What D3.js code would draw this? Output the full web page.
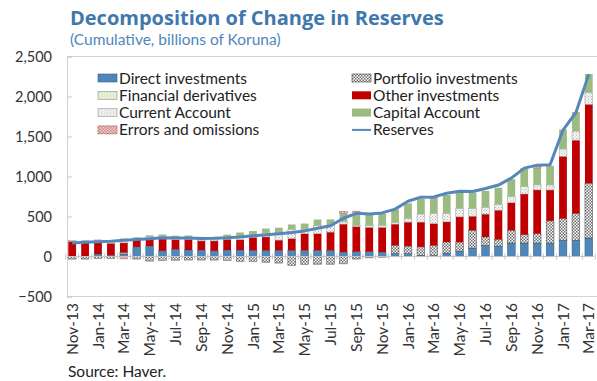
<!DOCTYPE html>
<html>
<head>
<meta charset="utf-8">
<script src="https://cdn.jsdelivr.net/npm/d3@7"></script>
<style>
  html, body { margin: 0; padding: 0; background: #fff; }
  svg { display: block; }
</style>
</head>
<body>
<svg id="chart" width="597" height="381"></svg>
<script>
// Monthly periods, Nov-13 .. Mar-17
const months = ["Nov-13","Dec-13","Jan-14","Feb-14","Mar-14","Apr-14","May-14","Jun-14","Jul-14","Aug-14","Sep-14","Oct-14",
  "Nov-14","Dec-14","Jan-15","Feb-15","Mar-15","Apr-15","May-15","Jun-15","Jul-15","Aug-15","Sep-15","Oct-15",
  "Nov-15","Dec-15","Jan-16","Feb-16","Mar-16","Apr-16","May-16","Jun-16","Jul-16","Aug-16","Sep-16","Oct-16",
  "Nov-16","Dec-16","Jan-17","Feb-17","Mar-17"];

// Cumulative components, billions of koruna
const directInvestments = [0,0,30,15,30,120,130,70,90,80,80,70,80,80,75,75,75,75,75,75,75,55,60,60,55,35,35,15,13,42,67,105,139,130,168,168,168,168,202,202,231];
const portfolioInvestments = [-30,-30,-25,-22,20,-30,-55,-50,-45,-42,-42,-42,-50,-59,-60,-70,-80,-110,-100,-95,-95,-90,-30,-15,-8,105,95,105,126,139,113,223,105,84,160,105,118,277,273,336,685];
const financialDerivatives = [-4,-4,-3,-3,-3,-3,-3,-3,-3,-3,-3,-3,-3,-3,-3,-3,-3,-3,-3,-3,-3,-3,-3,-3,-3,-4,-4,-4,-4,-4,-4,-4,-4,-4,-4,-4,-4,-4,-4,-4,-4];
const otherInvestments = [190,185,170,150,120,90,90,150,120,135,115,125,135,130,165,170,130,150,210,210,230,350,315,305,310,265,300,310,273,252,315,176,286,365,344,508,546,386,777,916,987];
const currentAccount = [10,10,5,20,40,15,25,30,25,25,25,25,28,40,35,50,90,115,50,100,80,30,15,20,25,20,45,100,126,105,105,97,84,71,76,92,63,63,92,113,147];
const capitalAccount = [0,5,5,10,15,15,20,25,25,22,25,25,30,50,43,54,65,60,77,77,79,100,170,135,145,160,190,190,189,231,210,197,206,210,218,231,210,240,244,239,231];
const errorsOmissions = [0,0,0,0,-27,0,0,0,0,0,0,0,0,0,0,0,0,0,0,0,0,28,7,0,0,0,0,0,20,0,0,0,0,0,0,0,21,0,0,0,0];
const reserves = [168,178,185,192,203,212,222,235,232,230,226,228,234,245,258,272,285,300,320,352,385,478,540,532,545,592,690,742,745,790,815,812,850,893,980,1105,1142,1146,1580,1800,2278];

const yTicks = [-500, 0, 500, 1000, 1500, 2000, 2500];
const monthLabels = months.filter((m, i) => i % 2 === 0);

const seriesKeys = ["direct","portfolio","derivatives","other","current","capital","errors"];
const seriesNames = {
  direct: "Direct investments", portfolio: "Portfolio investments", derivatives: "Financial derivatives",
  other: "Other investments", current: "Current Account", capital: "Capital Account",
  errors: "Errors and omissions"
};

const rows = months.map((m, i) => ({
  month: m,
  direct: directInvestments[i], portfolio: portfolioInvestments[i], derivatives: financialDerivatives[i],
  other: otherInvestments[i], current: currentAccount[i], capital: capitalAccount[i], errors: errorsOmissions[i]
}));

const FONT = "Lato, 'Noto Sans', sans-serif";
const svg = d3.select("#chart");
const defs = svg.append("defs");

// Fill patterns
function dotPattern(id, bg, fg, size, mode) {
  const p = defs.append("pattern").attr("id", id).attr("patternUnits", "userSpaceOnUse")
    .attr("width", size).attr("height", size);
  p.append("rect").attr("width", size).attr("height", size).attr("fill", bg);
  if (mode === "checker") {
    p.append("rect").attr("x", 0).attr("y", 0).attr("width", size / 2).attr("height", size / 2).attr("fill", fg);
    p.append("rect").attr("x", size / 2).attr("y", size / 2).attr("width", size / 2).attr("height", size / 2).attr("fill", fg);
  } else {
    p.append("rect").attr("x", 0).attr("y", 0).attr("width", 1).attr("height", 1).attr("fill", fg);
    p.append("rect").attr("x", size / 2).attr("y", size / 2).attr("width", 1).attr("height", 1).attr("fill", fg);
  }
}
dotPattern("pat-portfolio", "#ffffff", "#6e6e6e", 3, "checker");
dotPattern("pat-deriv", "#eef5e4", "#b9cf9f", 3, "dots");
dotPattern("pat-current", "#f7f7f7", "#b5b5b5", 3, "dots");
dotPattern("pat-errors", "#f7dede", "#c87878", 3, "checker");

const fills = {
  direct: "#4f88b8", portfolio: "url(#pat-portfolio)", derivatives: "url(#pat-deriv)",
  other: "#c00000", current: "url(#pat-current)", capital: "#9bbb83", errors: "url(#pat-errors)"
};
const strokes = {
  direct: "#2f5f86", portfolio: "#444", derivatives: "#8a9a78", other: "none",
  current: "#999", capital: "none", errors: "#a66"
};

const plot = { left: 67, right: 594, top: 56.5, bottom: 296.5 };

const x = d3.scaleBand().domain(months).range([plot.left, plot.right])
  .paddingInner(0.4).paddingOuter(0.1);
const y = d3.scaleLinear().domain([-500, 2500]).range([plot.bottom, plot.top]);

// Plot frame
const frame = svg.append("g").attr("stroke", "#d4d4d4").attr("fill", "none");
frame.append("line").attr("x1", plot.left).attr("x2", 597).attr("y1", plot.top).attr("y2", plot.top);
frame.append("line").attr("x1", plot.left).attr("x2", 597).attr("y1", plot.bottom).attr("y2", plot.bottom);

// Value axis
const yAxis = svg.append("g").attr("transform", `translate(${plot.left},0)`)
  .call(d3.axisLeft(y).tickValues(yTicks).tickSize(-5).tickPadding(15).tickFormat(d3.format(",")));
yAxis.select(".domain").attr("stroke", "#d0d0d0");
yAxis.selectAll(".tick line").attr("stroke", "#c8c8c8");
yAxis.selectAll("text").attr("font-family", FONT).attr("font-size", 14.5).attr("fill", "#333");

// Stacked bars
const stacked = d3.stack().keys(seriesKeys).offset(d3.stackOffsetDiverging)(rows);
const barGroups = svg.append("g").selectAll("g").data(stacked).join("g")
  .attr("fill", d => fills[d.key])
  .attr("stroke", d => strokes[d.key])
  .attr("stroke-width", 0.5);
barGroups.selectAll("rect").data(d => d).join("rect")
  .attr("x", d => x(d.data.month))
  .attr("width", x.bandwidth())
  .attr("y", d => y(Math.max(d[0], d[1])))
  .attr("height", d => Math.abs(y(d[0]) - y(d[1])));

// Category axis along zero
const zeroY = y(0);
const catAxis = svg.append("g").attr("stroke", "#c4c4c4");
catAxis.append("line").attr("x1", plot.left).attr("x2", plot.right).attr("y1", zeroY).attr("y2", zeroY);
const step = x.step();
catAxis.selectAll("line.tk").data(d3.range(months.length + 1)).join("line")
  .attr("class", "tk")
  .attr("x1", i => x(months[0]) - step * 0.4 / 2 + i * step)
  .attr("x2", i => x(months[0]) - step * 0.4 / 2 + i * step)
  .attr("y1", zeroY - 3).attr("y2", zeroY + 3);

// Reserves line
svg.append("path").datum(reserves)
  .attr("fill", "none").attr("stroke", "#5687bb").attr("stroke-width", 3)
  .attr("stroke-linejoin", "round")
  .attr("d", d3.line().x((d, i) => x(months[i]) + x.bandwidth() / 2).y(d => y(d)));

// Month labels
svg.append("g").selectAll("text").data(monthLabels).join("text")
  .attr("transform", d => `translate(${x(d) + x.bandwidth() / 2 + 5.5},303) rotate(-90)`)
  .attr("text-anchor", "end")
  .attr("font-family", FONT).attr("font-size", 15.5)
  .attr("fill", "#333").text(d => d);

// Legend
const legendItems = [
  { key: "direct", col: 0, row: 0 }, { key: "portfolio", col: 1, row: 0 },
  { key: "derivatives", col: 0, row: 1 }, { key: "other", col: 1, row: 1 },
  { key: "current", col: 0, row: 2 }, { key: "capital", col: 1, row: 2 },
  { key: "errors", col: 0, row: 3 }, { key: "reserves", col: 1, row: 3 }
];
const legend = svg.append("g");
const lg = legend.selectAll("g").data(legendItems).join("g")
  .attr("transform", d => `translate(${d.col === 0 ? 98 : 352},${78 + d.row * 17.3})`);
lg.filter(d => d.key !== "reserves").append("rect")
  .attr("x", 0).attr("y", -4).attr("width", 19).attr("height", 8)
  .attr("fill", d => fills[d.key]).attr("stroke", d => strokes[d.key] === "none" ? null : strokes[d.key])
  .attr("stroke-width", 0.6);
lg.filter(d => d.key === "reserves").append("line")
  .attr("x1", 0).attr("x2", 19).attr("y1", 0).attr("y2", 0)
  .attr("stroke", "#5687bb").attr("stroke-width", 2);
lg.append("text").attr("x", 21).attr("y", 5.5)
  .attr("font-family", FONT).attr("font-size", 15.5).attr("fill", "#222")
  .text(d => d.key === "reserves" ? "Reserves" : seriesNames[d.key]);

// Titles
svg.append("text").attr("x", 70).attr("y", 25)
  .attr("font-family", "'Open Sans', 'Noto Sans', sans-serif").attr("font-weight", 700)
  .attr("font-size", 20).attr("fill", "#3f78ad").text("Decomposition of Change in Reserves");
svg.append("text").attr("x", 70).attr("y", 45)
  .attr("font-family", FONT).attr("font-size", 15.5)
  .attr("fill", "#4f86bd").text("(Cumulative, billions of Koruna)");
svg.append("text").attr("x", 68).attr("y", 377)
  .attr("font-family", FONT).attr("font-size", 15.5)
  .attr("fill", "#222").text("Source: Haver.");
</script>
</body>
</html>
